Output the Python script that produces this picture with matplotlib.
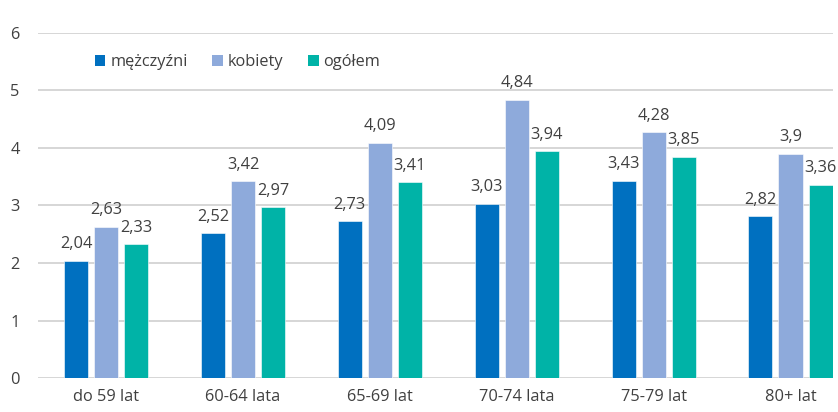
import numpy as np
import matplotlib.pyplot as plt
from matplotlib.patches import Patch

plt.rcParams['font.family'] = ['Open Sans', 'DejaVu Sans']

categories = ["do 59 lat", "60-64 lata", "65-69 lat", "70-74 lata", "75-79 lat", "80+ lat"]
mezczyzni = [2.04, 2.52, 2.73, 3.03, 3.43, 2.82]
kobiety = [2.63, 3.42, 4.09, 4.84, 4.28, 3.90]
ogolem = [2.33, 2.97, 3.41, 3.94, 3.85, 3.36]

series = [("mężczyźni", mezczyzni, "#0070C0"),
          ("kobiety", kobiety, "#8EAADB"),
          ("ogółem", ogolem, "#00B3A7")]

txt = "#404040"
fs = 11.8

fig = plt.figure(figsize=(8.38, 4.12), dpi=100)
ax = fig.add_axes([0.045, 0.0825, 0.949, 0.8375])

x = np.arange(len(categories))
w = 0.176
step = 0.22

for i, (name, vals, col) in enumerate(series):
    pos = x + (i - 1) * step
    ax.bar(pos, vals, width=w, color=col, edgecolor="white", linewidth=0.4, zorder=3)
    for px, v in zip(pos, vals):
        lab = ("%g" % v).replace(".", ",")
        ax.annotate(lab, (px, v), xytext=(0, 6), textcoords="offset points",
                    ha="center", va="bottom", fontsize=fs, color=txt)

ax.set_ylim(0, 6)
ax.set_xlim(-0.5, 5.31)
ax.set_yticks(range(7))
ax.set_xticks(x)
ax.set_xticklabels(categories)
ax.tick_params(axis="both", length=0, labelsize=fs, colors=txt)
ax.tick_params(axis="y", pad=13)
ax.tick_params(axis="x", pad=8)

ax.grid(axis="y", color="#D0D0D0", linewidth=1.2, zorder=0)
for s in ax.spines.values():
    s.set_visible(False)

handles = [Patch(facecolor=c, label=n) for n, _, c in series]
ax.legend(handles=handles, loc="center left", bbox_to_anchor=(0.053, 0.915), ncol=3,
          frameon=False, fontsize=fs, handlelength=0.65, handleheight=0.65,
          handletextpad=0.3, columnspacing=1.5, labelcolor=txt)

fig.savefig("out.png", dpi=100)
